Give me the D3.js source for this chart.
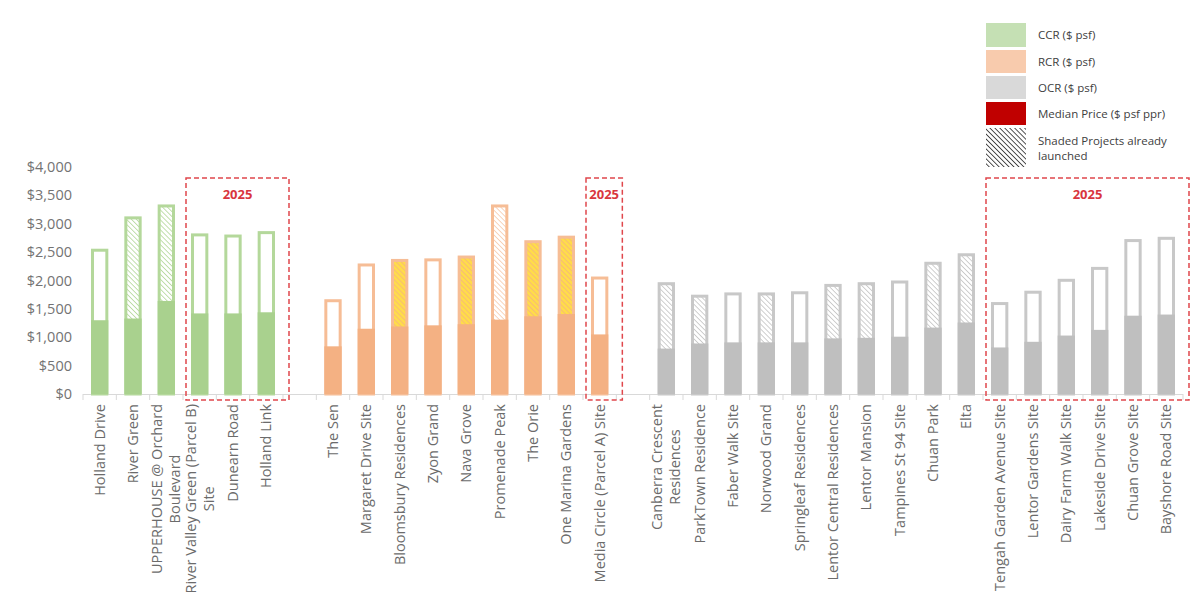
<!DOCTYPE html>
<html>
<head>
<meta charset="utf-8">
<script src="https://cdn.jsdelivr.net/npm/d3@7"></script>
<style>
  body { margin: 0; background: #fff; }
  svg { display: block; font-family: "Open Sans", "DejaVu Sans", sans-serif; }
</style>
</head>
<body>
<svg id="chart"></svg>
<script>
// chart size
const W = 1200, H = 606;

// ---- data ----
// CCR projects
const ccrNames = ["Holland Drive", "River Green", "UPPERHOUSE @ Orchard\nBoulevard",
  "River Valley Green (Parcel B)\nSite", "Dunearn Road", "Holland Link"];
const ccrLow   = [1300, 1330, 1640, 1420, 1420, 1440];
const ccrHigh  = [2560, 3130, 3340, 2830, 2810, 2870];
const ccrShade = ["none", "hatch", "hatch", "none", "none", "none"];

// RCR projects
const rcrNames = ["The Sen", "Margaret Drive Site", "Bloomsbury Residences", "Zyon Grand",
  "Nava Grove", "Promenade Peak", "The Orie", "One Marina Gardens", "Media Circle (Parcel A) Site"];
const rcrLow   = [840, 1150, 1190, 1210, 1230, 1310, 1370, 1410, 1050];
const rcrHigh  = [1670, 2300, 2380, 2390, 2440, 3340, 2710, 2790, 2070];
const rcrShade = ["none", "none", "gold", "none", "gold", "hatch", "gold", "gold", "none"];

// OCR projects
const ocrNames = ["Canberra Crescent\nResidences", "ParkTown Residence", "Faber Walk Site",
  "Norwood Grand", "Springleaf Residences", "Lentor Central Residences", "Lentor Mansion",
  "Tampines St 94 Site", "Chuan Park", "Elta", "Tengah Garden Avenue Site",
  "Lentor Gardens Site", "Dairy Farm Walk Site", "Lakeside Drive Site", "Chuan Grove Site",
  "Bayshore Road Site"];
const ocrLow   = [800, 890, 910, 910, 910, 980, 990, 1010, 1170, 1260, 820, 920, 1030, 1130, 1380, 1400];
const ocrHigh  = [1970, 1750, 1790, 1790, 1810, 1940, 1970, 2000, 2330, 2480, 1620, 1820, 2030, 2240, 2730, 2770];
const ocrShade = ["hatch", "hatch", "none", "hatch", "none", "hatch", "hatch", "none", "hatch", "hatch",
  "none", "none", "none", "none", "none", "none"];

// 2025 launch boxes (first and last project in each)
const box2025 = [
  ["River Valley Green (Parcel B)\nSite", "Holland Link"],
  ["Media Circle (Parcel A) Site", "Media Circle (Parcel A) Site"],
  ["Tengah Garden Avenue Site", "Bayshore Road Site"]
];

const yTicks = [0, 500, 1000, 1500, 2000, 2500, 3000, 3500, 4000];

const legendItems = ["CCR ($ psf)", "RCR ($ psf)", "OCR ($ psf)", "Median Price ($ psf ppr)",
  "Shaded Projects already\nlaunched"];

// ---- colours ----
const solid = { CCR: "#A9D18E", RCR: "#F4B183", OCR: "#BFBFBF" };
const edge  = { CCR: "#B4D89B", RCR: "#F6BD96", OCR: "#C8C8C8" };

// build rows
const rows = [];
ccrNames.forEach((n, i) => rows.push({ name: n, region: "CCR", low: ccrLow[i], high: ccrHigh[i], shade: ccrShade[i] }));
rcrNames.forEach((n, i) => rows.push({ name: n, region: "RCR", low: rcrLow[i], high: rcrHigh[i], shade: rcrShade[i] }));
ocrNames.forEach((n, i) => rows.push({ name: n, region: "OCR", low: ocrLow[i], high: ocrHigh[i], shade: ocrShade[i] }));

const slots = [...ccrNames, "gap1", ...rcrNames, "gap2", ...ocrNames];

const svg = d3.select("#chart").attr("width", W).attr("height", H);

// hatch patterns
const defs = svg.append("defs");
function hatch(id, bg, line, w, gap) {
  const p = defs.append("pattern")
    .attr("id", id)
    .attr("patternUnits", "userSpaceOnUse")
    .attr("width", gap).attr("height", gap)
    .attr("patternTransform", "rotate(-45)");
  p.append("rect").attr("width", gap).attr("height", gap).attr("fill", bg);
  p.append("line").attr("x1", 0).attr("y1", 0).attr("x2", 0).attr("y2", gap)
    .attr("stroke", line).attr("stroke-width", w);
}
hatch("h-CCR", "#fff", "#B4D89B", 1.6, 3.5);
hatch("h-RCR", "#fff", "#F8CBAD", 1.6, 3.5);
hatch("h-OCR", "#fff", "#C4C4C4", 1.6, 3.5);
hatch("h-gold", "#FFDC4A", "#F4B183", 1.4, 3.5);
hatch("h-legend", "#fff", "#404040", 1.8, 3.5);

// scales
const x = d3.scaleBand().domain(slots).range([83, 1183]).paddingInner(0.48).paddingOuter(0.24);
const y = d3.scaleLinear().domain([0, 4000]).range([394, 167]);
const bw = x.bandwidth();
const step = x.step();

// y axis labels
svg.append("g")
  .selectAll("text")
  .data(yTicks)
  .join("text")
    .attr("x", 72)
    .attr("y", d => y(d))
    .attr("dy", "0.35em")
    .attr("text-anchor", "end")
    .attr("fill", "#737373")
    .attr("font-size", 14.5)
    .text(d => d3.format("$,.0f")(d));

// x axis line + ticks between slots
const xa = svg.append("g");
xa.append("line")
  .attr("x1", 83).attr("x2", 1183)
  .attr("y1", y(0) + 0.5).attr("y2", y(0) + 0.5)
  .attr("stroke", "#D9D9D9");
xa.selectAll("line.tick")
  .data(d3.range(slots.length + 1))
  .join("line")
    .attr("class", "tick")
    .attr("x1", i => 83 + i * step).attr("x2", i => 83 + i * step)
    .attr("y1", y(0)).attr("y2", y(0) + 6)
    .attr("stroke", "#D9D9D9");

// bars
const bars = svg.append("g")
  .selectAll("g")
  .data(rows)
  .join("g")
    .attr("transform", d => `translate(${x(d.name)},0)`);

bars.append("rect")
  .attr("x", 1.5)
  .attr("y", d => y(d.high) + 1.5)
  .attr("width", bw - 3)
  .attr("height", d => y(0) - y(d.high) - 1.5)
  .attr("fill", d => d.shade === "none" ? "#fff" : d.shade === "gold" ? "url(#h-gold)" : `url(#h-${d.region})`)
  .attr("stroke", d => edge[d.region])
  .attr("stroke-width", 3);

bars.append("rect")
  .attr("x", 0)
  .attr("y", d => y(d.low))
  .attr("width", bw)
  .attr("height", d => y(0) - y(d.low))
  .attr("fill", d => solid[d.region]);

// x labels, rotated, multi-line centred on each other
const lab = svg.append("g")
  .selectAll("g")
  .data(rows)
  .join("g")
    .attr("transform", d => `translate(${x(d.name) + bw / 2},404) rotate(-90)`);

lab.each(function (d) {
  const g = d3.select(this);
  const lines = d.name.split("\n");
  const ts = lines.map((t, i) => g.append("text")
    .attr("y", (i - (lines.length - 1) / 2) * 18)
    .attr("dy", "0.35em")
    .attr("text-anchor", "middle")
    .attr("fill", "#6b6b6b")
    .attr("font-size", 14.5)
    .text(t));
  const L = d3.max(ts, t => t.node().getComputedTextLength());
  ts.forEach(t => t.attr("x", -L / 2));
});

// 2025 boxes
const boxes = svg.append("g");
box2025.forEach(([a, b]) => {
  const x0 = x(a) - (step - bw) / 2 + 3;
  const x1 = x(b) + bw + (step - bw) / 2 + 6;
  boxes.append("rect")
    .attr("x", x0).attr("y", 178)
    .attr("width", x1 - x0).attr("height", 222)
    .attr("fill", "none")
    .attr("stroke", "#E0474C")
    .attr("stroke-width", 1.5)
    .attr("stroke-dasharray", "5,3");
  boxes.append("text")
    .attr("x", (x0 + x1) / 2)
    .attr("y", 199)
    .attr("text-anchor", "middle")
    .attr("fill", "#D9363E")
    .attr("font-weight", "bold")
    .attr("font-size", 13)
    .text("2025");
});

// legend
const legFills = ["#C5E0B4", "#F8CBAD", "#D9D9D9", "#C00000", "url(#h-legend)"];
const legY = [23, 50, 76, 102, 128];
const legH = [24, 23, 23, 23, 39];
const leg = svg.append("g");
legendItems.forEach((t, i) => {
  leg.append("rect")
    .attr("x", 986).attr("y", legY[i])
    .attr("width", 40).attr("height", legH[i])
    .attr("fill", legFills[i]);
  const lines = t.split("\n");
  lines.forEach((s, j) => {
    leg.append("text")
      .attr("x", 1038)
      .attr("y", legY[i] + (lines.length > 1 ? 13 + j * 15 : legH[i] / 2))
      .attr("dy", "0.35em")
      .attr("fill", "#404040")
      .attr("font-size", 11.5)
      .text(s);
  });
});
</script>
</body>
</html>
